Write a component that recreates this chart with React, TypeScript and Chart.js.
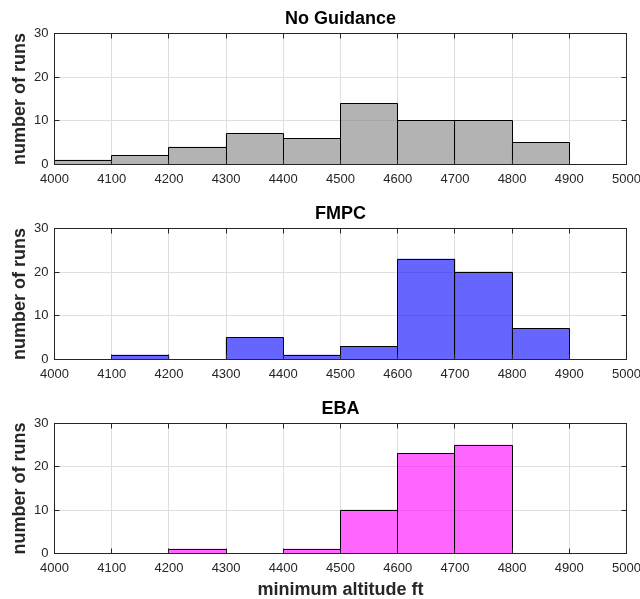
import React, { useEffect, useRef } from "react";
import { Chart, registerables } from "chart.js";

Chart.register(...registerables);

// ---- data ----
const binEdges = [4000, 4100, 4200, 4300, 4400, 4500, 4600, 4700, 4800, 4900];
const binWidth = 100;
const noGuidanceCounts = [1, 2, 4, 7, 6, 14, 10, 10, 5, 0];
const fmpcCounts = [0, 1, 0, 5, 1, 3, 23, 20, 7, 0];
const ebaCounts = [0, 0, 1, 0, 1, 10, 23, 25, 0, 0];
const panelTitles = ["No Guidance", "FMPC", "EBA"];
const xMin = 4000;
const xMax = 5000;
const xStep = 100;
const yMin = 0;
const yMax = 30;
const yStep = 10;
const yLabel = "number of runs";
const xLabel = "minimum altitude ft";

const W = 640;
const H = 599;
const FONT = "'Liberation Sans', Arial, Helvetica, sans-serif";
const AXIS_COLOR = "#262626";

const panels = [
  { title: panelTitles[0], counts: noGuidanceCounts, fill: "rgba(128,128,128,0.6)", top: 33.5, bottom: 164.5, showXLabel: false },
  { title: panelTitles[1], counts: fmpcCounts, fill: "rgba(0,0,255,0.6)", top: 228.5, bottom: 359.5, showXLabel: false },
  { title: panelTitles[2], counts: ebaCounts, fill: "rgba(255,0,255,0.6)", top: 423.5, bottom: 553.5, showXLabel: true },
];

const LEFT = 54.5;
const RIGHT = 626.5;
const X_AXIS_H = 20;

const al = (v: number) => Math.round(v - 0.5) + 0.5;

const framePlugin = {
  id: "frame",
  afterDatasetsDraw(chart: any) {
    const { ctx } = chart;
    const meta = chart.getDatasetMeta(0);
    ctx.save();
    ctx.strokeStyle = "#000";
    ctx.lineWidth = 1;
    ctx.beginPath();
    meta.data.forEach((el: any) => {
      const { x, y, base, width } = el.getProps(["x", "y", "base", "width"], true);
      const l = al(x - width / 2);
      const r = al(x + width / 2);
      const t = al(Math.min(y, base));
      const b = al(Math.max(y, base));
      if (b - t < 0.5) {
        ctx.moveTo(l, b);
        ctx.lineTo(r, b);
      } else {
        ctx.rect(l, t, r - l, b - t);
      }
    });
    ctx.stroke();
    ctx.restore();
  },
  afterDraw(chart: any, _args: any, opts: any) {
    const { ctx, chartArea } = chart;
    const { left, right, top, bottom } = chartArea;
    const xs = chart.scales.x;
    const ys = chart.scales.y;
    ctx.save();
    ctx.strokeStyle = AXIS_COLOR;
    ctx.lineWidth = 1;
    ctx.strokeRect(left, top, right - left, bottom - top);
    const tl = 5;
    ctx.beginPath();
    xs.ticks.forEach((t: any) => {
      const px = al(xs.getPixelForValue(t.value));
      ctx.moveTo(px, bottom);
      ctx.lineTo(px, bottom - tl);
      ctx.moveTo(px, top);
      ctx.lineTo(px, top + tl);
    });
    ys.ticks.forEach((t: any) => {
      const py = al(ys.getPixelForValue(t.value));
      ctx.moveTo(left, py);
      ctx.lineTo(left + tl, py);
      ctx.moveTo(right, py);
      ctx.lineTo(right - tl, py);
    });
    ctx.stroke();

    // title
    ctx.fillStyle = "#000";
    ctx.font = `bold 18px ${FONT}`;
    ctx.textAlign = "center";
    ctx.textBaseline = "alphabetic";
    ctx.fillText(opts.title, (left + right) / 2, top - 10);

    // y label
    ctx.fillStyle = AXIS_COLOR;
    ctx.save();
    ctx.translate(25, (top + bottom) / 2);
    ctx.rotate(-Math.PI / 2);
    ctx.fillText(yLabel, 0, 0);
    ctx.restore();

    if (opts.showXLabel) {
      ctx.fillText(xLabel, (left + right) / 2, 595);
    }
    ctx.restore();
  },
};

function Panel({ idx }: { idx: number }) {
  const ref = useRef<HTMLCanvasElement | null>(null);
  useEffect(() => {
    const p = panels[idx];
    const canvas = ref.current!;
    const chart = new Chart(canvas, {
      type: "bar",
      data: {
        datasets: [
          {
            data: binEdges.map((e, i) => ({ x: e + binWidth / 2, y: p.counts[i] })),
            backgroundColor: p.fill,
            borderWidth: 0,
            barPercentage: 1,
            categoryPercentage: 1,
          } as any,
        ],
      },
      options: {
        responsive: false,
        animation: false,
        devicePixelRatio: 1,
        layout: {
          padding: {
            left: 0,
            right: W - RIGHT,
            top: p.top,
            bottom: H - p.bottom - X_AXIS_H,
          },
        },
        plugins: {
          legend: { display: false },
          tooltip: { enabled: false },
          title: { display: false },
          frame: { title: p.title, showXLabel: p.showXLabel },
        } as any,
        scales: {
          x: {
            type: "linear",
            min: xMin,
            max: xMax,
            offset: false,
            grid: { color: "#dedede", drawTicks: false, offset: false },
            border: { display: false },
            ticks: {
              stepSize: xStep,
              autoSkip: false,
              maxRotation: 0,
              padding: 7,
              color: AXIS_COLOR,
              font: { family: FONT, size: 13 },
              callback: (v: any) => String(v),
            },
            afterFit: (s: any) => {
              s.height = X_AXIS_H;
              s.paddingLeft = 0;
              s.paddingRight = 0;
            },
          },
          y: {
            min: yMin,
            max: yMax,
            grid: { color: "#dedede", drawTicks: false },
            border: { display: false },
            ticks: {
              stepSize: yStep,
              padding: 6,
              color: AXIS_COLOR,
              font: { family: FONT, size: 13 },
            },
            afterFit: (s: any) => {
              s.width = LEFT;
              s.paddingTop = 0;
              s.paddingBottom = 0;
            },
          },
        },
      },
      plugins: [framePlugin],
    });
    return () => chart.destroy();
  }, [idx]);
  return (
    <canvas
      ref={ref}
      width={W}
      height={H}
      style={{ position: "absolute", left: 0, top: 0, width: W, height: H }}
    />
  );
}

export default function App() {
  return (
    <div style={{ position: "fixed", left: 0, top: 0, width: W, height: H, background: "#fff" }}>
      {panels.map((_, i) => (
        <Panel key={i} idx={i} />
      ))}
    </div>
  );
}
